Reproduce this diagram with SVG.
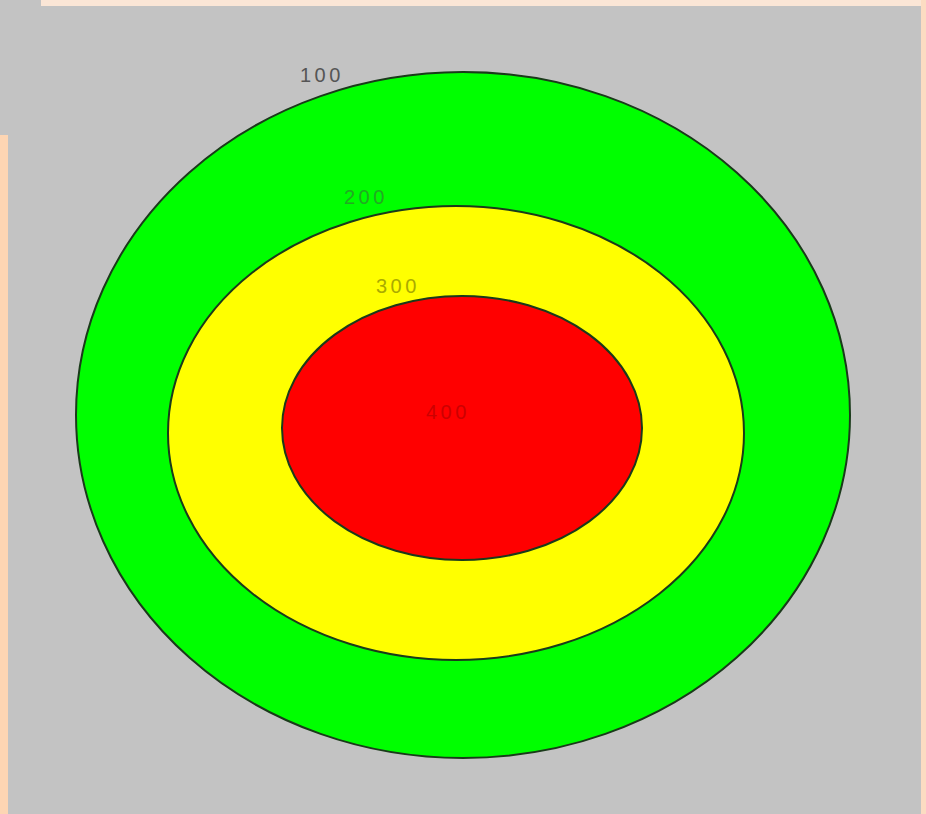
<svg xmlns="http://www.w3.org/2000/svg" width="926" height="814" viewBox="0 0 926 814">
<style>
.ring{stroke:#1a3a1a;stroke-width:2}
.lbl{font-family:"Liberation Sans",Arial,sans-serif;font-size:20px;letter-spacing:3.5px}
</style>
<rect x="0" y="0" width="926" height="814" fill="#c3c3c3"/>
<rect x="41" y="0" width="885" height="6" fill="#fbe6d6"/>
<rect x="921" y="0" width="5" height="814" fill="#fcdcc2"/>
<rect x="0" y="135" width="8" height="679" fill="#fdd5b3"/>
<g id="ring100">
<ellipse class="ring" cx="463" cy="415" rx="387" ry="343" fill="#00ff00"/>
<text class="lbl" x="300" y="82" fill="#555555">100</text>
</g>
<g id="ring200">
<ellipse class="ring" cx="456" cy="433" rx="288" ry="227" fill="#ffff00"/>
<text class="lbl" x="344" y="204" fill="#22aa22">200</text>
</g>
<g id="ring300">
<ellipse class="ring" cx="462" cy="428" rx="180" ry="132" fill="#ff0000"/>
<text class="lbl" x="376" y="293" fill="#aaaa00">300</text>
</g>
<g id="ring400">
<text class="lbl" x="426" y="419" fill="#cc0000">400</text>
</g>
</svg>
